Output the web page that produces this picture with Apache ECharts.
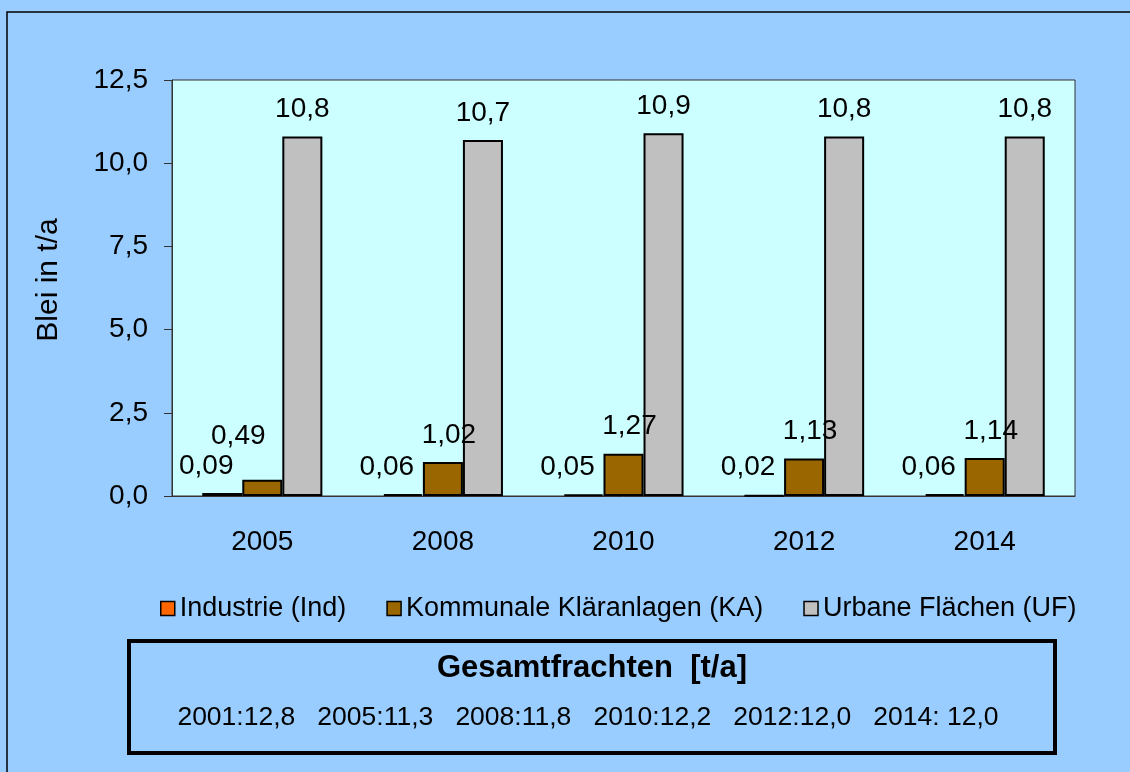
<!DOCTYPE html>
<html>
<head>
<meta charset="utf-8">
<title>Blei in t/a</title>
<script src="https://cdn.jsdelivr.net/npm/echarts@6/dist/echarts.min.js"></script>
<style>
  html, body { margin: 0; padding: 0; background: #fff; }
  #chart { width: 1130px; height: 772px; }
</style>
</head>
<body>
<div id="chart"></div>
<script>
var years = ['2005', '2008', '2010', '2012', '2014']
var industrie = [0.09, 0.06, 0.05, 0.02, 0.06]
var klaeranlagen = [0.49, 1.02, 1.27, 1.13, 1.14]
var urban = [10.8, 10.7, 10.9, 10.8, 10.8]
var totalYears = ['2001', '2005', '2008', '2010', '2012', '2014']
var totals = ['12,8', '11,3', '11,8', '12,2', '12,0', ' 12,0']

var font = '"Liberation Sans", Arial, sans-serif'
var comma = function (v, d) { return v.toFixed(d).replace('.', ',') }

var chart = echarts.init(document.getElementById('chart'))

function barSeries(name, data, color, dec, offX) {
  return {
    name: name,
    type: 'bar',
    barGap: 0,
    barCategoryGap: '33.5%',
    itemStyle: { color: color, borderColor: '#000', borderWidth: 2 },
    label: {
      show: true,
      position: 'top',
      distance: 13,
      offset: [offX, 0],
      color: '#000',
      fontFamily: font,
      fontSize: 28,
      formatter: function (p) { return comma(p.value, dec) }
    },
    data: data.map(function (v, i) {
      // 2005 KA label was moved up-left in the original to clear the Ind label
      if (name.indexOf('KA') > -1 && i === 0) {
        return { value: v, label: { offset: [-24, -16] } }
      }
      return v
    })
  }
}

var totalsLine = totalYears.map(function (y, i) { return y + ':' + totals[i] }).join('   ')

chart.setOption({
  backgroundColor: '#99CCFF',
  animation: false,
  textStyle: { fontFamily: font },
  grid: {
    left: 172, top: 80, right: 55, bottom: 276,
    show: true,
    backgroundColor: '#CCFFFF',
    borderColor: '#333',
    borderWidth: 1
  },
  legend: {
    left: 160,
    top: 595,
    padding: 0,
    itemWidth: 14,
    itemHeight: 14,
    itemGap: 40,
    icon: 'rect',
    itemStyle: { borderColor: '#000', borderWidth: 1.5 },
    textStyle: { fontSize: 27, color: '#000', fontFamily: font },
    data: ['Industrie (Ind)', 'Kommunale Kläranlagen (KA)', 'Urbane Flächen (UF)']
  },
  xAxis: {
    type: 'category',
    data: years,
    axisLine: { lineStyle: { color: '#333', width: 1 } },
    axisTick: { show: false },
    axisLabel: { color: '#000', fontSize: 28, margin: 32, fontFamily: font }
  },
  yAxis: {
    type: 'value',
    min: 0,
    max: 12.5,
    interval: 2.5,
    name: 'Blei in t/a',
    nameLocation: 'middle',
    nameRotate: 90,
    nameGap: 108,
    nameTextStyle: { color: '#000', fontSize: 30, fontFamily: font, padding: [0, 0, 0, 16] },
    axisLine: { show: true, lineStyle: { color: '#333', width: 1 } },
    axisTick: { show: true, length: 8, lineStyle: { color: '#333' } },
    splitLine: { show: false },
    axisLabel: {
      color: '#000', fontSize: 28, margin: 24, fontFamily: font,
      formatter: function (v) { return comma(v, 1) }
    }
  },
  series: [
    barSeries('Industrie (Ind)', industrie, '#FF6600', 2, -16),
    barSeries('Kommunale Kläranlagen (KA)', klaeranlagen, '#996600', 2, 6),
    barSeries('Urbane Flächen (UF)', urban, '#C0C0C0', 1, 0)
  ],
  graphic: [
    {
      type: 'rect',
      shape: { x: 7, y: 12, width: 1140, height: 780 },
      style: { fill: 'none', stroke: '#000', lineWidth: 1.5 },
      silent: true
    },
    {
      type: 'rect',
      shape: { x: 129, y: 641, width: 926, height: 112 },
      style: { fill: 'none', stroke: '#000', lineWidth: 4 },
      silent: true
    },
    {
      type: 'text',
      x: 592, y: 668,
      style: {
        text: 'Gesamtfrachten  [t/a]',
        font: 'bold 31px ' + font,
        fill: '#000',
        textAlign: 'center',
        textVerticalAlign: 'middle'
      }
    },
    {
      type: 'text',
      x: 588, y: 718,
      style: {
        text: totalsLine,
        font: '26.5px ' + font,
        fill: '#000',
        textAlign: 'center',
        textVerticalAlign: 'middle'
      }
    }
  ]
})
</script>
</body>
</html>
